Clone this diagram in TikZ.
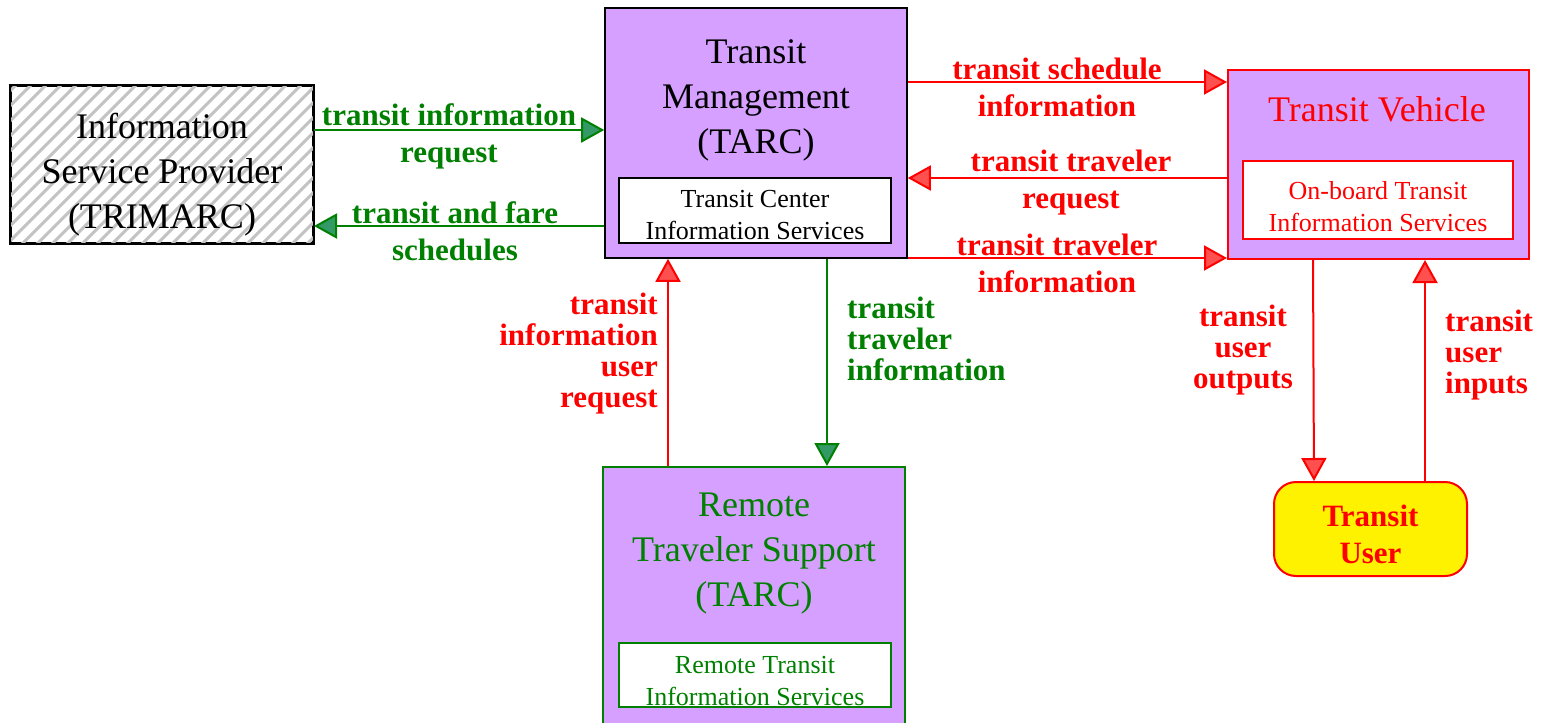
\documentclass[tikz,border=0pt]{standalone}
\usepackage{fontspec}
\setmainfont{Liberation Serif}
\usetikzlibrary{arrows.meta}
\definecolor{vio}{RGB}{213,160,255}
\definecolor{gline}{RGB}{0,128,0}
\definecolor{gfill}{RGB}{51,153,102}
\definecolor{rline}{RGB}{255,0,0}
\definecolor{rfill}{RGB}{255,80,80}
\definecolor{hatchc}{RGB}{195,195,195}
\newcommand\bigtxt{\fontsize{36}{45}\selectfont}
\newcommand\smalltxt{\fontsize{26}{32}\selectfont}
\newcommand\lblH{\fontsize{31}{37}\selectfont\bfseries}
\newcommand\lblV{\fontsize{31}{31}\selectfont\bfseries}
\tikzset{
  boxn/.style={draw, line width=2pt, inner sep=0pt},
  garrow/.style={draw=gline, line width=2pt, -{Triangle[length=23pt,width=25pt,fill=gfill]}},
  rarrow/.style={draw=rline, line width=2pt, -{Triangle[length=23pt,width=25pt,fill=rfill]}},
  txt/.style={inner sep=0pt, align=center},
}
\begin{document}
\begin{tikzpicture}[x=1pt,y=-1pt]
\useasboundingbox[fill=white] (0,0) rectangle (1543,723);

% Information Service Provider (hatched)
\node[boxn, fill=white, minimum width=302pt, minimum height=157pt] (isp) at (162,164.5) {};
\begin{scope}
  \clip (isp.south west) rectangle (isp.north east);
  \foreach \i in {-170,-155,...,320} {
    \draw[hatchc, line width=3pt] (11+\i,245) -- ++(170,-170);
  }
\end{scope}
\draw[line width=2.5pt] (isp.south west) rectangle (isp.north east);
\node[txt, font=\bigtxt] (isptxt) at (162,175) {Information\\Service Provider\\(TRIMARC)};

% Transit Management
\node[boxn, fill=vio, line width=1.6pt, minimum width=302pt, minimum height=250pt] (tm) at (756,133) {};
\node[txt, font=\bigtxt] (tmtxt) at (756,100) {Transit\\Management\\(TARC)};
\node[boxn, fill=white, line width=1.6pt, minimum width=272pt, minimum height=65pt] (tmin) at (755,210.5) {};
\node[txt, font=\smalltxt] (tmintxt) at (755,215) {Transit Center\\Information Services};

% Transit Vehicle
\node[boxn, draw=rline, fill=vio, minimum width=301pt, minimum height=189pt] (tv) at (1378.5,164.5) {};
\node[txt, font=\bigtxt, text=rline] (tvtxt) at (1377,109) {Transit Vehicle};
\node[boxn, draw=rline, fill=white, minimum width=270pt, minimum height=78pt] (tvin) at (1378,200) {};
\node[txt, font=\smalltxt, text=rline] (tvintxt) at (1378,207) {On-board Transit\\Information Services};

% Remote Traveler Support
\node[boxn, draw=gline, fill=vio, minimum width=302pt, minimum height=263pt] (rts) at (754,598.5) {};
\node[txt, font=\bigtxt, text=gline] (rtstxt) at (754,554) {Remote\\Traveler Support\\(TARC)};
\node[boxn, draw=gline, fill=white, minimum width=272pt, minimum height=64pt] (rtsin) at (755,675) {};
\node[txt, font=\smalltxt, text=gline] (rtsintxt) at (755,681) {Remote Transit\\Information Services};

% Transit User
\node[draw=rline, line width=2pt, fill=yellow, rounded corners=22pt, minimum width=193pt, minimum height=94pt, inner sep=0pt] (tu) at (1370.5,529) {};
\node[txt, font=\fontsize{31}{37}\selectfont\bfseries, text=rline] (tutxt) at (1370.5,534) {Transit\\User};

% Green connectors
\draw[garrow] (isp.east |- 0,130) -- (tm.west |- 0,130);
\draw[garrow] (tm.west |- 0,226) -- (isp.east |- 0,226);
\draw[garrow] (tm.south -| 827,0) -- (rts.north -| 827,0);

% Red connectors
\draw[rarrow] (rts.north -| 668,0) -- (tm.south -| 668,0);
\draw[rarrow] (tm.east |- 0,82) -- (tv.west |- 0,82);
\draw[rarrow] (tv.west |- 0,178) -- (tm.east |- 0,178);
\draw[rarrow] (tm.east |- 0,258) -- (tv.west |- 0,258);
\draw[rarrow] (tv.south -| 1313,0) -- (tu.north -| 1314,0);
\draw[rarrow] (tu.north -| 1425,0) -- (tv.south -| 1425,0);

% Labels
\node[txt, font=\lblH, text=gline] (l1) at (449,136) {transit information\\request};
\node[txt, font=\lblH, text=gline] (l2) at (455,231) {transit and fare\\schedules};
\node[txt, font=\lblV, text=gline, anchor=west, align=left] (l3) at (847,339) {transit\\traveler\\information};
\node[txt, font=\lblV, text=rline, anchor=east, align=right] (l4) at (658,354) {transit\\information\\user\\request};
\node[txt, font=\lblH, text=rline] (l5) at (1057,87) {transit schedule\\information};
\node[txt, font=\lblH, text=rline] (l6) at (1071,183) {transit traveler\\request};
\node[txt, font=\lblH, text=rline] (l7) at (1057,263) {transit traveler\\information};
\node[txt, font=\lblV, text=rline] (l8) at (1243,350) {transit\\user\\outputs};
\node[txt, font=\lblV, text=rline, anchor=west, align=left] (l9) at (1445,355) {transit\\user\\inputs};
\end{tikzpicture}
\end{document}
